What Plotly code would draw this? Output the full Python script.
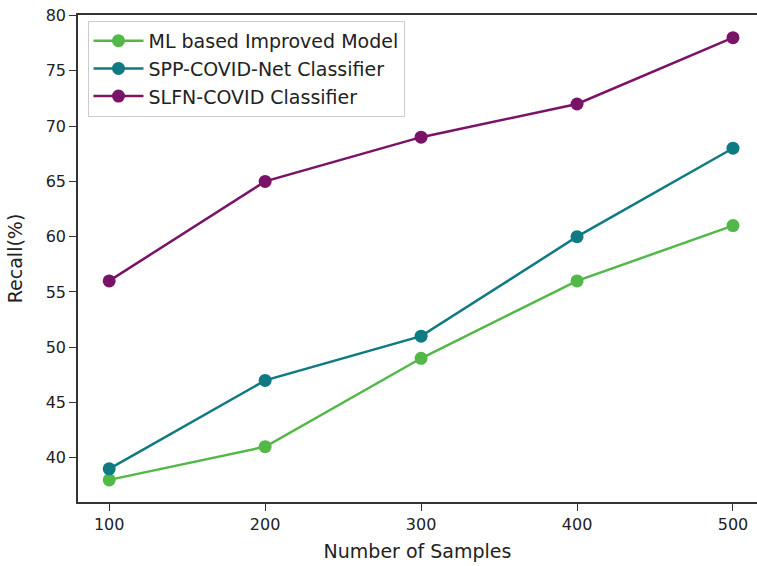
import plotly.graph_objects as go

samples = [100, 200, 300, 400, 500]
ml_based = [38, 41, 49, 56, 61]
spp_covid = [39, 47, 51, 60, 68]
slfn_covid = [56, 65, 69, 72, 78]

names = ["ML based Improved Model", "SPP-COVID-Net Classifier", "SLFN-COVID Classifier"]
colors = ["#52b848", "#0f7a82", "#7a1268"]

fig = go.Figure()
for name, vals, c in zip(names, [ml_based, spp_covid, slfn_covid], colors):
    fig.add_trace(go.Scatter(x=samples, y=vals, name=name, mode="lines+markers",
                             line=dict(color=c, width=2.5),
                             marker=dict(color=c, size=13)))

fig.update_layout(
    width=757, height=566,
    margin=dict(l=78, r=0, t=15, b=64),
    paper_bgcolor="white", plot_bgcolor="white",
    font=dict(family="DejaVu Sans", size=16, color="#222"),
    legend=dict(x=0.014, y=0.988, xanchor="left", yanchor="top",
                bgcolor="rgba(255,255,255,0.8)", bordercolor="#ccc", borderwidth=1,
                font=dict(size=19), tracegroupgap=0, itemwidth=50),
    xaxis=dict(range=[80, 515.4], tickvals=samples, showgrid=False, zeroline=False,
               showline=True, linecolor="#333", linewidth=1.5, mirror=True,
               ticks="outside", ticklen=7, tickcolor="#333",
               title=dict(text="Number of Samples", standoff=12)),
    yaxis=dict(range=[36, 80.05], tickvals=[40, 45, 50, 55, 60, 65, 70, 75, 80],
               showgrid=False, zeroline=False,
               showline=True, linecolor="#333", linewidth=1.5, mirror=False,
               ticks="outside", ticklen=7, tickcolor="#333",
               title=dict(text="Recall(%)", standoff=18)),
)
fig.write_html("out.html", config={"displayModeBar": False},
               post_script="document.body.style.margin='0';")
